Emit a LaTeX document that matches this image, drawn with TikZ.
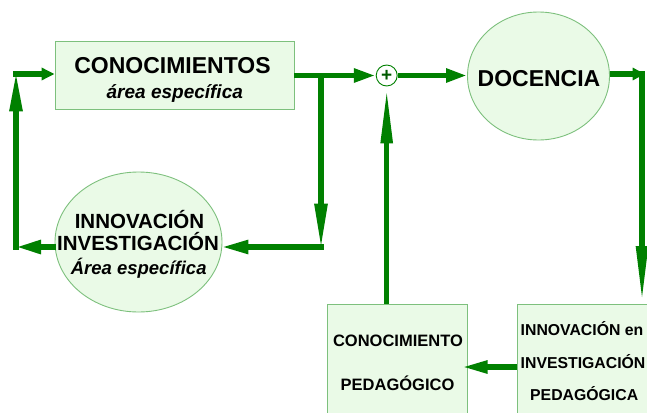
\documentclass[tikz,border=0pt]{standalone}
\usepackage{fontspec}
\setmainfont{Liberation Sans}
\usetikzlibrary{arrows.meta,shapes.geometric}
\definecolor{arrgreen}{RGB}{0,128,0}
\definecolor{boxfill}{RGB}{234,250,231}
\definecolor{boxdraw}{RGB}{125,192,125}
\tikzset{
  arr/.style={draw=arrgreen, line width=5.5pt},
  hd/.style 2 args={-{Triangle[length=#1pt,width=#2pt]}},
  greenbox/.style={draw=boxdraw, fill=boxfill, line width=0.9pt, rectangle, inner sep=0pt},
  greenell/.style={draw=boxdraw, fill=boxfill, line width=0.9pt, ellipse, inner sep=0pt},
  bigtxt/.style={font=\fontsize{23}{27}\selectfont\bfseries, inner sep=0pt, anchor=base},
  midtxt/.style={font=\fontsize{20.5}{24}\selectfont\bfseries, inner sep=0pt, anchor=base},
  ittxt/.style={font=\fontsize{19}{22}\selectfont\bfseries\itshape, inner sep=0pt, anchor=base},
  smtxt/.style={font=\fontsize{16.5}{20}\selectfont\bfseries, inner sep=0pt, anchor=base},
  rtxt/.style={font=\fontsize{15.8}{20}\selectfont\bfseries, inner sep=0pt, anchor=base west},
}
\begin{document}
\begin{tikzpicture}[x=1pt,y=-1pt]
\clip (0,0) rectangle (647,412);
\fill[white] (0,0) rectangle (647,412);

% nodes
\node[greenbox, minimum width=239pt, minimum height=68pt] (know) at (174.5,75.5) {};
\node[bigtxt] (knowA) at (172.5,73.3) {CONOCIMIENTOS};
\node[ittxt] (knowB) at (174.8,98.3) {área específica};

\node[draw=arrgreen, fill=white, line width=0.9pt, circle, minimum size=21pt, inner sep=0pt] (plus) at (386.7,75.5) {};
\node[font=\fontsize{19}{19}\selectfont\bfseries, text=arrgreen!70!black, inner sep=0pt] (plusS) at (386.7,75.5) {+};

\node[greenell, minimum width=142pt, minimum height=128pt] (doc) at (538.5,76) {};
\node[bigtxt] (docT) at (539,86) {DOCENCIA};

\node[greenell, minimum width=167pt, minimum height=140pt] (innov) at (138.5,242) {};
\node[midtxt] (innA) at (139.5,228.3) {INNOVACIÓN};
\node[midtxt] (innB) at (138,250.7) {INVESTIGACIÓN};
\node[ittxt, font=\fontsize{18.5}{22}\selectfont\bfseries\itshape] (innC) at (138.7,274) {Área específica};

\node[greenbox, minimum width=140pt, minimum height=130pt] (ped) at (397,369) {};
\node[smtxt] (pedA) at (398,346) {CONOCIMIENTO};
\node[smtxt] (pedB) at (397.5,390) {PEDAGÓGICO};

\node[greenbox, minimum width=150pt, minimum height=130pt] (inv) at (592,369) {};
\node[rtxt] (invA) at (520.5,335) {INNOVACIÓN en};
\node[rtxt] (invB) at (520.5,368) {INVESTIGACIÓN};
\node[rtxt] (invC) at (530,400) {PEDAGÓGICA};

% corner coordinates
\coordinate (br) at (321,75.5);
\coordinate (bc) at (321,249.7);
\coordinate (bh) at (323.7,247);
\coordinate (lc) at (16,247);
\coordinate (lb) at (16,249.7);
\coordinate (lt) at (16,71.3);
\coordinate (tc) at (13.3,74);
\coordinate (rc) at (644.7,74);
\coordinate (rt) at (642,71.3);
\coordinate (rb) at (642,304);
\coordinate (lvl) at (0,367);
\coordinate (tip) at (461.7,367);

% connectors
\draw[arr, hd={22}{13}] (know.east) -- (plus.west);
\draw[arr, hd={21}{13}] (plus.east) -- (plus.east -| doc.west);
\draw[arr, hd={46}{12}] (br) -- (bc);
\draw[arr, hd={27}{13}] (bh) -- ([xshift=-1pt]innov.east |- bh);
\draw[arr, hd={25}{13}] ([xshift=1pt]innov.west |- lc) -- (lc);
\draw[arr, hd={40}{12}] (lb) -- (lt);
\draw[arr, hd={13}{12}] (tc) -- (know.west |- tc);
\draw[arr, hd={12}{12}] (doc.east |- rc) -- (rc);
\draw[arr, hd={58}{11}] (rt) -- (rb);
\draw[arr, hd={57}{11}] (plus.south |- ped.north) -- (plus.south);
\draw[arr, hd={26}{12}] (inv.west |- lvl) -- (tip);
\end{tikzpicture}
\end{document}
